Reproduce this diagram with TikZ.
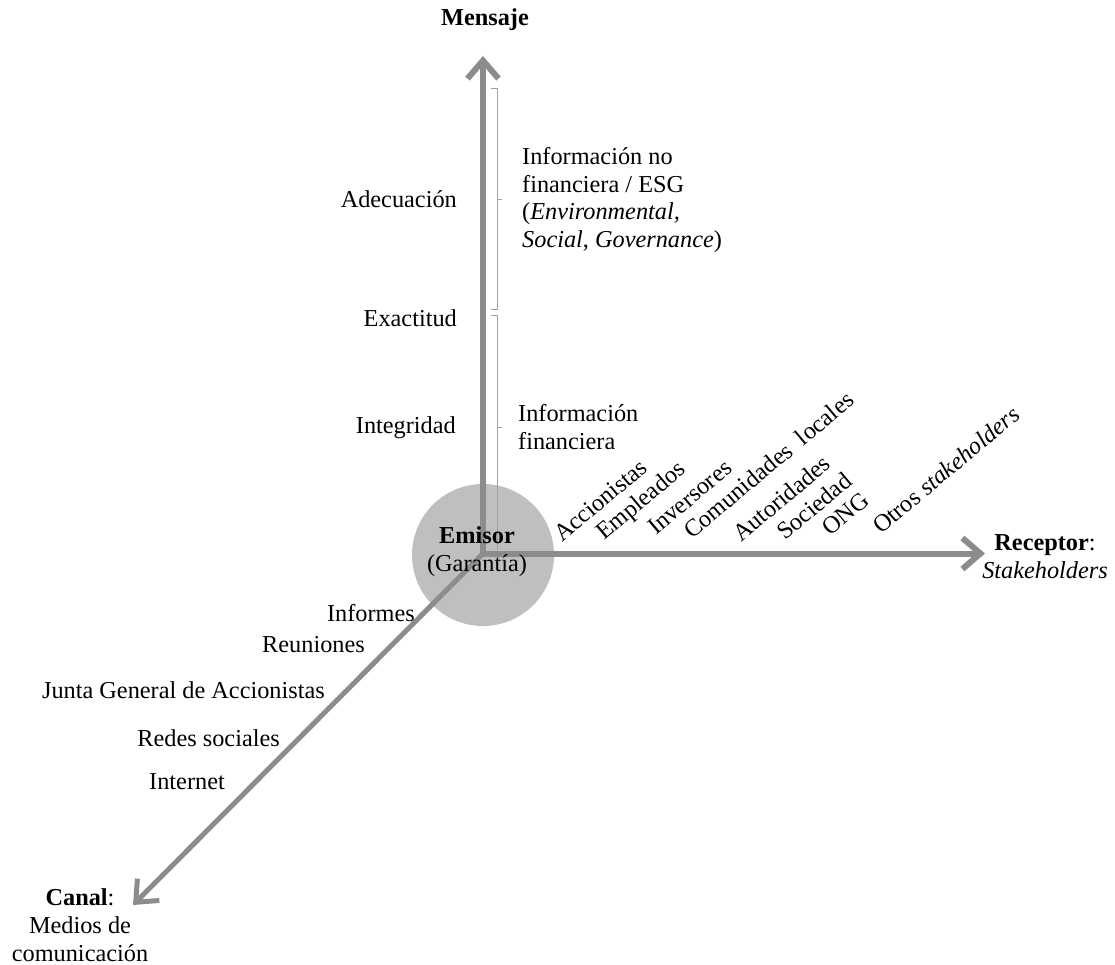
\documentclass[tikz,border=0pt]{standalone}
\usepackage{fontspec}
\setmainfont{Liberation Serif}
\usetikzlibrary{arrows.meta}
\definecolor{axisgray}{HTML}{8C8C8C}
\definecolor{discgray}{HTML}{BFBFBF}
\definecolor{bracegray}{HTML}{A0A0A0}
\begin{document}
\begin{tikzpicture}[x=1pt,y=-1pt,
  every node/.style={font=\fontsize{24.3}{27.7}\selectfont, inner sep=0pt, text=black},
  axis/.style={draw=axisgray, line width=6pt, -{Straight Barb[length=18pt,width=31pt]}},
  bracket/.style={draw=bracegray, line width=1pt},
  stake/.style={anchor=base west, rotate=40},
  leftlbl/.style={anchor=east},
  rightlbl/.style={anchor=west, align=left}
]
\useasboundingbox (0,0) rectangle (1115,965);

% sender disc
\fill[discgray] (483,555) circle [radius=71pt];

% brackets grouping the message qualities
\draw[bracket] (491,89) -- (497,89) -- (497,309) -- (491,309);
\draw[bracket] (497,200) -- (502,200);
\draw[bracket] (491,315) -- (497,315) -- (497,551) -- (491,551);
\draw[bracket] (497,427) -- (502,427);

% axes
\coordinate (O) at (483,553.5);
\coordinate (mtip) at (483,56);
\coordinate (rtip) at (985,553.5);
\coordinate (ctip) at (133,905);
\draw[axis] (O) -- (mtip);
\draw[axis] (O) -- (rtip);
\draw[axis, line width=5pt] (O) -- (ctip);

% axis titles
\node (mensaje) at (485,20) {\textbf{Mensaje}};
\node (receptor) [align=center] at (1045,557) {\textbf{Receptor}:\\\textit{Stakeholders}};
\node (canal) [align=center] at (80,925) {\textbf{Canal}:\\Medios de\\comunicación};
\node (emisor) [align=center] at (477,552) {\textbf{Emisor}\\(Garantía)};

% message qualities
\node (adecuacion) [leftlbl] at (457,199) {Adecuación};
\node (exactitud) [leftlbl] at (457,318) {Exactitud};
\node (integridad) [leftlbl] at (456,428) {Integridad};

% message contents
\node (nofin) [rightlbl] at (522,200) {Información no\\financiera / ESG\\(\textit{Environmental,}\\\textit{Social}, \textit{Governance})};
\node (fin) [rightlbl] at (518,427) {Información\\financiera};

% stakeholders
\node (s1) [stake] at (562,543) {Accionistas};
\node (s2) [stake] at (604,541) {Empleados};
\node (s3) [stake] at (656,536) {Inversores};
\node (s4) [stake] at (692,540) {Comunidades~ locales};
\node (s5) [stake] at (741,543) {Autoridades};
\node (s6) [stake] at (785,541) {Sociedad};
\node (s7) [stake] at (830,537) {ONG};
\node (s8) [stake] at (881,535) {Otros \textit{stakeholders}};

% channels
\node (c1) [anchor=east] at (415,613) {Informes};
\node (c2) [anchor=east] at (365,645) {Reuniones};
\node (c3) [anchor=east] at (325,690) {Junta General de Accionistas};
\node (c4) [anchor=east] at (280,738) {Redes sociales};
\node (c5) [anchor=east] at (225,782) {Internet};
\end{tikzpicture}
\end{document}
